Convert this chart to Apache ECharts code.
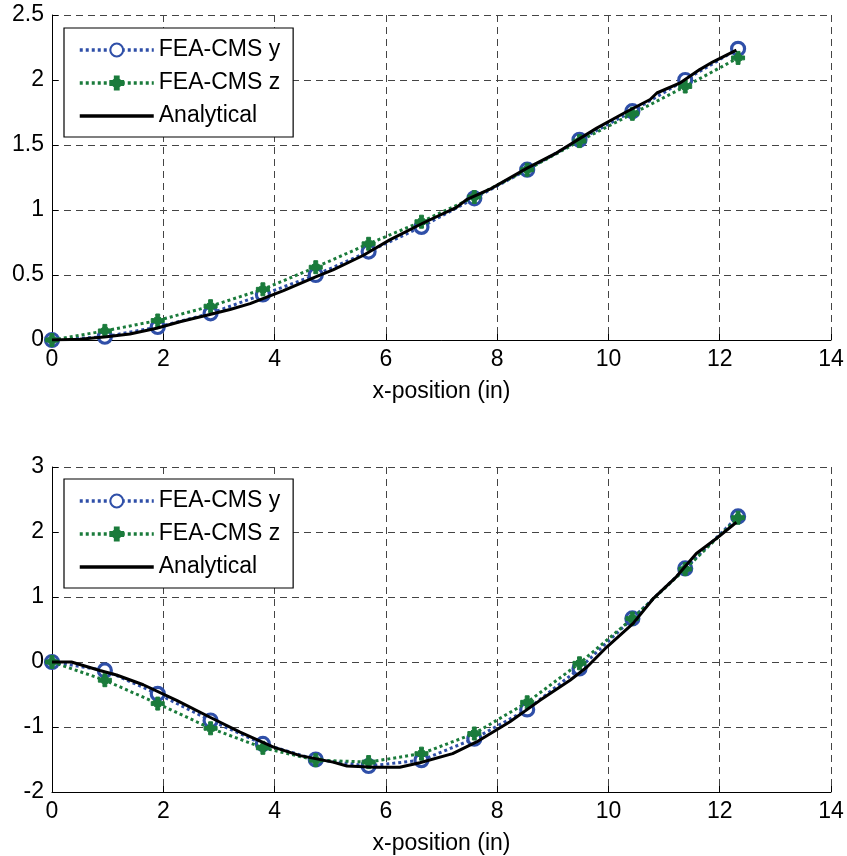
<!DOCTYPE html>
<html>
<head>
<meta charset="utf-8">
<script src="https://cdn.jsdelivr.net/npm/echarts@6/dist/echarts.min.js"></script>
<style>
html,body{margin:0;padding:0;background:#fff;}
#chart{width:847px;height:856px;}
</style>
</head>
<body>
<div id="chart"></div>
<script>
// ---- data ----
const markerX = [0, 0.95, 1.9, 2.85, 3.79, 4.74, 5.69, 6.64, 7.59, 8.54, 9.48, 10.43, 11.38, 12.33];
const topFeaY = [0, 0.025, 0.1, 0.205, 0.35, 0.5, 0.68, 0.87, 1.09, 1.31, 1.54, 1.76, 2.0, 2.24];
const topFeaZ = [0, 0.07, 0.15, 0.26, 0.39, 0.56, 0.74, 0.91, 1.1, 1.31, 1.53, 1.74, 1.95, 2.17];
const topAnaX = [0, 0.5, 0.98, 1.4, 1.88, 2.3, 2.78, 3.2, 3.56, 4.16, 4.76, 5.05, 5.59, 6.07, 6.67, 7.27, 7.45, 7.87, 8.53, 9.07, 9.79, 10.3, 10.75, 10.87, 11.3, 11.64, 11.88, 12.3];
const topAnaY = [0, 0.005, 0.025, 0.046, 0.09, 0.14, 0.19, 0.235, 0.28, 0.38, 0.49, 0.54, 0.65, 0.77, 0.9, 1.02, 1.08, 1.16, 1.32, 1.44, 1.63, 1.75, 1.85, 1.9, 1.98, 2.08, 2.14, 2.23];

const botFeaY = [0, -0.13, -0.49, -0.9, -1.26, -1.5, -1.6, -1.51, -1.18, -0.73, -0.1, 0.67, 1.44, 2.24];
const botFeaZ = [0, -0.28, -0.64, -1.02, -1.32, -1.51, -1.54, -1.41, -1.1, -0.62, -0.02, 0.67, 1.43, 2.22];
const botAnaX = [0, 0.35, 0.86, 1.16, 1.64, 2.24, 2.84, 3.38, 3.98, 4.46, 5.05, 5.3, 5.8, 6.25, 6.61, 7.2, 7.63, 8.23, 8.77, 9.31, 9.61, 9.97, 10.44, 10.8, 11.22, 11.58, 11.94, 12.3];
const botAnaY = [0, 0, -0.13, -0.2, -0.35, -0.59, -0.85, -1.08, -1.31, -1.44, -1.54, -1.6, -1.62, -1.62, -1.55, -1.41, -1.23, -0.92, -0.59, -0.28, -0.08, 0.23, 0.59, 0.97, 1.31, 1.67, 1.9, 2.15];

const xTicks = {min: 0, max: 14, interval: 2};
const topYTicks = {min: 0, max: 2.5, interval: 0.5};
const botYTicks = {min: -2, max: 3, interval: 1};
const seriesNames = ['FEA-CMS y', 'FEA-CMS z', 'Analytical'];
const xTitle = 'x-position (in)';

// ---- styles ----
const FONT = 'Liberation Sans, Arial, sans-serif';
const BLUE = '#2f4fa8';
const GREEN = '#1a7b3b';
const plusPath = 'path://M3.5,0 L6.5,0 L6.5,2 L8,3.5 L10,3.5 L10,6.5 L8,6.5 L6.5,8 L6.5,10 L3.5,10 L3.5,8 L2,6.5 L0,6.5 L0,3.5 L2,3.5 L3.5,2 Z';

function pairs(xs, ys){ return xs.map((x,i)=>[x, ys[i]]); }

function xAxisCfg(gi){
  return {
    type:'value', gridIndex:gi, min:xTicks.min, max:xTicks.max, interval:xTicks.interval,
    name:xTitle, nameLocation:'middle', nameGap:40,
    nameTextStyle:{fontFamily:FONT, fontSize:23, color:'#000'},
    axisLine:{show:true, onZero:false, lineStyle:{color:'#000', width:1}},
    axisTick:{show:true, inside:true, length:6, lineStyle:{color:'#000'}},
    axisLabel:{fontFamily:FONT, fontSize:23, color:'#000', margin:8},
    splitLine:{show:true, lineStyle:{color:'#444', type:[7,5], width:1}}
  };
}
function yAxisCfg(gi, t){
  return {
    type:'value', gridIndex:gi, min:t.min, max:t.max, interval:t.interval,
    axisLine:{show:true, onZero:false, lineStyle:{color:'#000', width:1}},
    axisTick:{show:true, inside:true, length:6, lineStyle:{color:'#000'}},
    axisLabel:{fontFamily:FONT, fontSize:23, color:'#000', margin:8},
    splitLine:{show:true, lineStyle:{color:'#444', type:[7,5], width:1}}
  };
}
function feaSeries(name, gi, ys, color, isCircle){
  return {
    name:name, type:'line', xAxisIndex:gi, yAxisIndex:gi,
    data:pairs(markerX, ys),
    lineStyle:{color:color, width:3, type:[3,3]},
    symbol: isCircle ? 'circle' : plusPath,
    symbolSize: isCircle ? 13 : 13,
    showAllSymbol:true,
    itemStyle: isCircle ? {color:'#fff', borderColor:color, borderWidth:3.2, opacity:1}
                        : {color:color, borderColor:color, borderWidth:1},
    animation:false, z: isCircle ? 2 : 3
  };
}
function anaSeries(gi, xs, ys){
  return {
    name:seriesNames[2], type:'line', xAxisIndex:gi, yAxisIndex:gi,
    data:pairs(xs, ys), symbol:'none', smooth:false,
    lineStyle:{color:'#000', width:3}, itemStyle:{color:'#000'},
    animation:false, z:4
  };
}
function legendCfg(top){
  return {
    show:true, orient:'vertical', left:64, top:top,
    data:[
      {name:seriesNames[0], lineStyle:{width:3.5, type:[3,3], color:BLUE}},
      {name:seriesNames[1], lineStyle:{width:3.5, type:[3,3], color:GREEN}},
      {name:seriesNames[2], lineStyle:{width:3.5, color:'#000'}, itemStyle:{opacity:0}}
    ],
    backgroundColor:'#fff', borderColor:'#000', borderWidth:1.2, borderRadius:0,
    padding:[9,13,8,14], itemGap:7, itemWidth:74, itemHeight:16,
    textStyle:{fontFamily:FONT, fontSize:23, color:'#000', lineHeight:26},
    selectedMode:false
  };
}

const chart = echarts.init(document.getElementById('chart'), null, {renderer:'canvas'});
const option = {
  animation:false,
  backgroundColor:'#fff',
  grid:[
    {left:52, top:15, width:779, height:325},
    {left:52, top:467, width:779, height:325}
  ],
  xAxis:[xAxisCfg(0), xAxisCfg(1)],
  yAxis:[yAxisCfg(0, topYTicks), yAxisCfg(1, botYTicks)],
  legend:[
    Object.assign(legendCfg(28), {id:'lg0'}),
    Object.assign(legendCfg(479), {id:'lg1'})
  ],
  series:[
    feaSeries(seriesNames[0], 0, topFeaY, BLUE, true),
    feaSeries(seriesNames[1], 0, topFeaZ, GREEN, false),
    anaSeries(0, topAnaX, topAnaY),
    feaSeries(seriesNames[0], 1, botFeaY, BLUE, true),
    feaSeries(seriesNames[1], 1, botFeaZ, GREEN, false),
    anaSeries(1, botAnaX, botAnaY)
  ]
};
chart.setOption(option);
</script>
</body>
</html>
